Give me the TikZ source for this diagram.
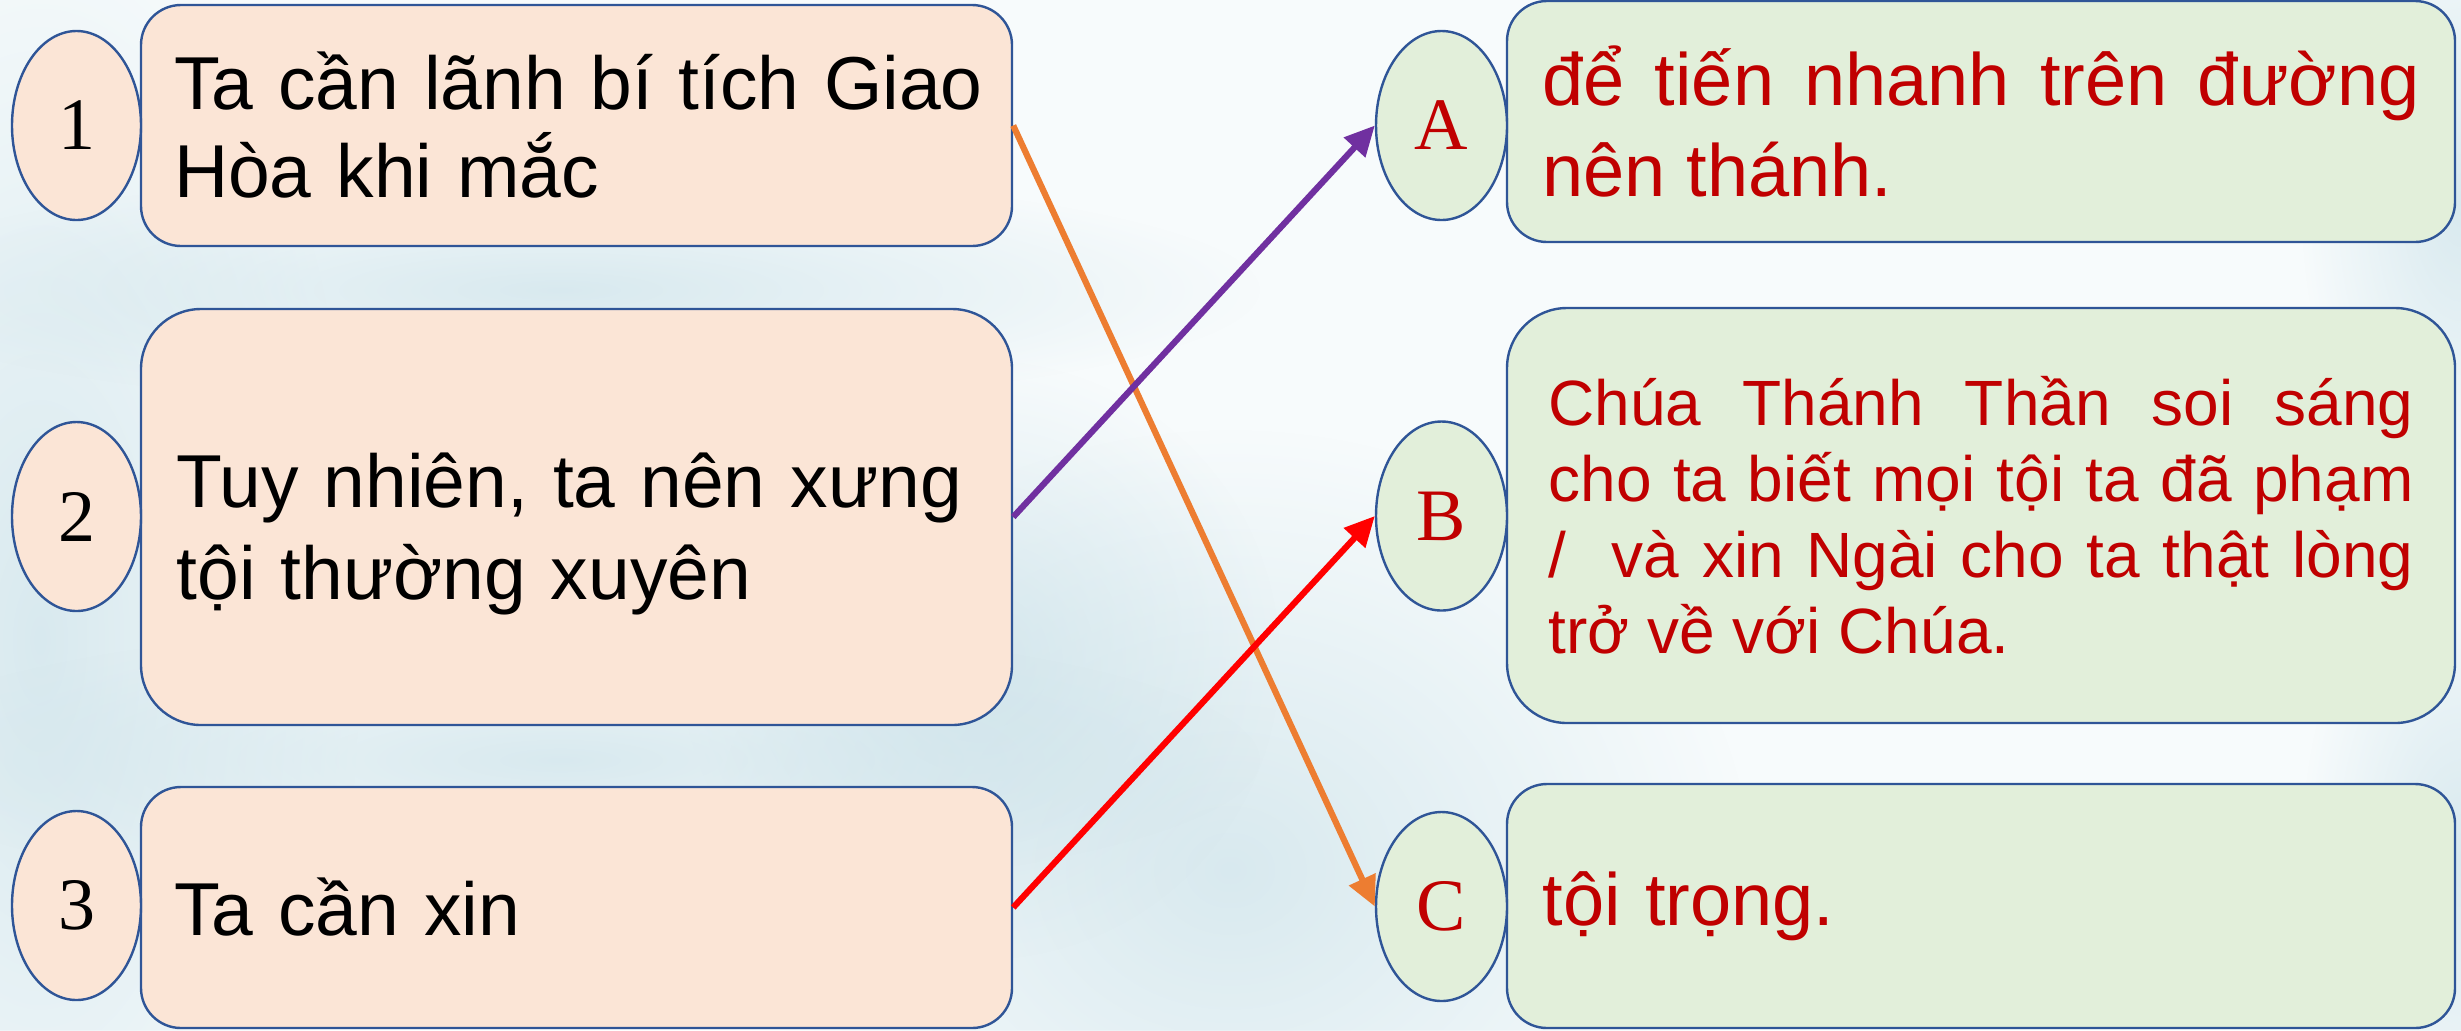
\documentclass[tikz,border=0pt]{standalone}
\usepackage{fontspec}
\setmainfont{Liberation Sans}
\newfontfamily\serifnum{Liberation Serif}
\usetikzlibrary{arrows.meta,shapes.geometric,fadings}
\definecolor{bg}{HTML}{F7FBFC}
\definecolor{wash}{HTML}{C8E0E8}
\definecolor{peach}{HTML}{FBE5D6}
\definecolor{mint}{HTML}{E2EFDA}
\definecolor{edgeblue}{HTML}{2F5597}
\definecolor{darkred}{HTML}{C00000}
\definecolor{orangeln}{HTML}{ED7D31}
\definecolor{purpleln}{HTML}{7030A0}
\definecolor{redln}{HTML}{FF0000}
\hyphenpenalty=10000
\exhyphenpenalty=10000
\tikzfading[name=softblob, inner color=transparent!35, outer color=transparent!100]
\begin{document}
\begin{tikzpicture}[x=0.5pt,y=-0.5pt,
  boxbase/.style={draw=edgeblue, line width=1.2pt, inner sep=0pt, minimum width=435.5pt},
  lbox/.style={boxbase, fill=peach, rounded corners=20pt, text width=402.5pt, align=left,
     font=\fontsize{37.5}{44}\selectfont, text=black},
  lboxbig/.style={lbox, rounded corners=30pt, text width=400pt, font=\fontsize{37.5}{46}\selectfont},
  rbox/.style={boxbase, fill=mint, minimum width=474pt, rounded corners=20pt, text width=438.5pt,
     align=justify, font=\fontsize{37}{45.5}\selectfont, text=darkred},
  rboxbig/.style={rbox, rounded corners=30pt, text width=432.5pt, font=\fontsize{32}{38}\selectfont},
  ellbase/.style={ellipse, draw=edgeblue, line width=1.2pt, inner sep=0pt, minimum height=94.5pt,
     font=\serifnum\fontsize{37}{37}\selectfont},
  lell/.style={ellbase, fill=peach, minimum width=64.5pt, text=black},
  rell/.style={ellbase, fill=mint, minimum width=65.5pt, text=darkred},
  conn/.style={line width=3.1pt, -{Triangle[length=15pt,width=14pt]}}
]
\useasboundingbox (0,0) rectangle (2461,1030);
\fill[bg] (0,0) rectangle (2461,1030);
% watercolour wash of the background
\fill[wash, path fading=softblob] (40,640) ellipse (320 and 760);
\fill[wash, path fading=softblob] (1230,870) ellipse (520 and 440);
\fill[wash, path fading=softblob] (980,660) ellipse (300 and 300);
\fill[wash, path fading=softblob] (2461,200) ellipse (160 and 320);
\fill[wash, path fading=softblob] (2461,860) ellipse (160 and 320);
\fill[wash, path fading=softblob] (560,290) ellipse (700 and 120);
\fill[wash, path fading=softblob] (560,760) ellipse (700 and 140);

% left column
\node[lbox, minimum height=120.5pt] (b1) at (576.5,125.5) {\mbox{Ta cần lãnh bí tích Giao}\\\mbox{Hòa khi mắc}};
\node[lboxbig, minimum height=208pt] (b2) at (576.5,517) {\mbox{\rule{0pt}{44pt}Tuy nhiên, ta nên xưng}\\\mbox{tội thường xuyên}};
\node[lbox, minimum height=120.5pt] (b3) at (576.5,907.5) {Ta cần xin};
\node[lell] (e1) at (76.5,125.5) {1};
\node[lell] (e2) at (76.5,516.5) {2};
\node[lell] (e3) at (76.5,905.5) {3};

% right column
\node[rbox, minimum height=120.5pt] (bA) at (1981,121.5) {để tiến nhanh trên đường\linebreak nên thánh.};
\node[rboxbig, minimum height=207.5pt] (bB) at (1981,515.5) {Chúa Thánh Thần soi sáng\linebreak cho ta biết mọi tội ta đã phạm\linebreak /\ \ và xin Ngài cho ta thật lòng\linebreak trở về với Chúa.};
\node[rbox, minimum height=122pt, align=left] (bC) at (1981,906) {tội trọng.};
\node[rell] (eA) at (1441.5,125.5) {A};
\node[rell] (eB) at (1441.5,516) {B};
\node[rell] (eC) at (1441.5,906.5) {C};

% connectors
\draw[conn, orangeln] (b1.east) -- (eC.west);
\draw[conn, purpleln] (b2.east) -- (eA.west);
\draw[conn, redln] (b3.east) -- (eB.west);
\end{tikzpicture}
\end{document}
